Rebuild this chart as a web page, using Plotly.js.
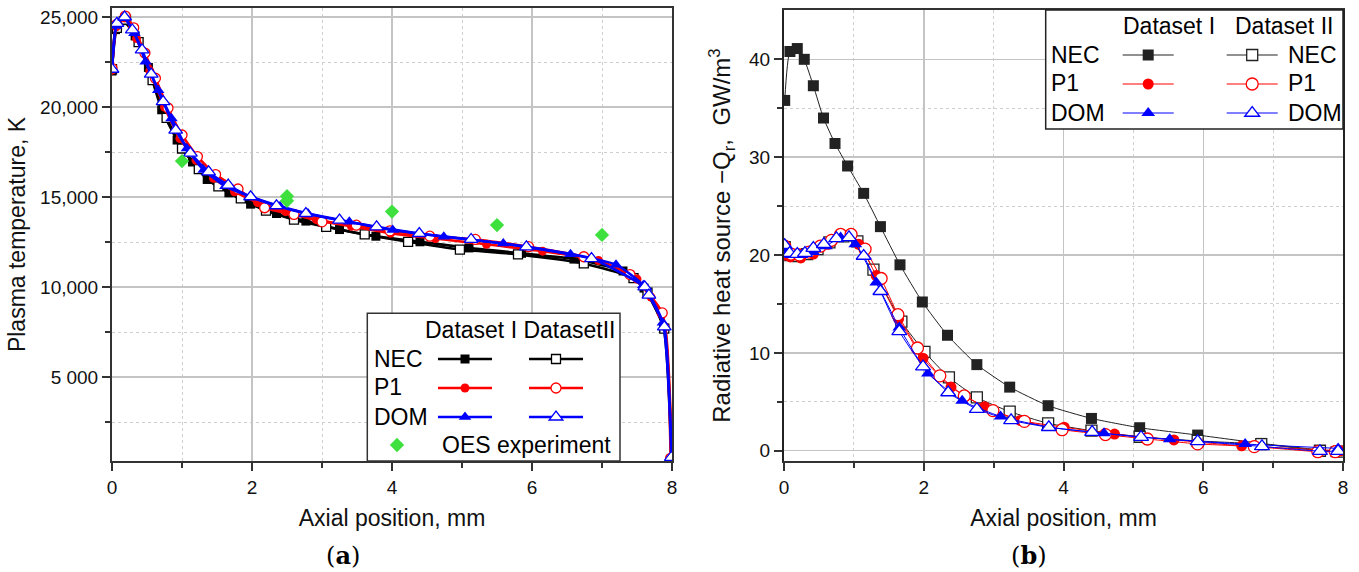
<!DOCTYPE html>
<html>
<head>
<meta charset="utf-8">
<script src="https://cdn.plot.ly/plotly-3.0.1.min.js"></script>
<style>html,body{margin:0;padding:0;background:#fff;}#chart{width:1359px;height:572px;}</style>
</head>
<body>
<div id="chart"></div>
<script>
// ---------- Panel (a): plasma temperature, K ----------
const a_nec1_x = [0, 0.05, 0.16, 0.33, 0.52, 0.71, 0.93, 1.15, 1.36, 1.67, 1.98, 2.35, 2.77, 3.25, 3.77, 4.40, 5.10, 5.85, 6.60, 7.30, 7.60, 7.88, 7.99];
const a_nec1_y = [22000, 24300, 24800, 23950, 22200, 19850, 18170, 16950, 15980, 15240, 14610, 14090, 13670, 13200, 12830, 12520, 12180, 11880, 11560, 10900, 9950, 7750, 450];
const a_nec2_x = [0, 0.07, 0.20, 0.38, 0.58, 0.78, 1.00, 1.24, 1.52, 1.84, 2.20, 2.60, 3.06, 3.61, 4.23, 4.97, 5.80, 6.74, 7.45, 7.65, 7.89, 8.0];
const a_nec2_y = [22100, 24400, 24850, 23600, 21500, 19400, 17700, 16550, 15600, 14930, 14250, 13750, 13350, 12930, 12520, 12090, 11820, 11320, 10500, 9700, 7700, 400];
const a_p11_x = [0, 0.06, 0.18, 0.35, 0.54, 0.75, 0.97, 1.20, 1.45, 1.75, 2.08, 2.48, 2.92, 3.42, 3.98, 4.62, 5.35, 6.15, 6.95, 7.50, 7.70, 7.90, 8.0];
const a_p11_y = [22050, 24450, 24950, 23800, 22000, 20000, 18250, 17050, 16050, 15300, 14700, 14200, 13750, 13380, 13000, 12700, 12380, 12000, 11480, 10450, 9450, 7800, 450];
const a_p12_x = [0, 0.07, 0.19, 0.31, 0.47, 0.62, 0.80, 1.00, 1.22, 1.48, 1.80, 2.18, 2.60, 3.00, 3.49, 3.97, 4.54, 5.19, 5.95, 6.74, 7.40, 7.86, 7.98];
const a_p12_y = [22150, 24600, 25050, 24400, 23000, 21600, 19950, 18450, 17250, 16250, 15450, 14410, 14040, 13630, 13440, 13130, 12830, 12650, 12250, 11690, 10700, 8570, 500];
const a_dom1_x = [0, 0.06, 0.17, 0.32, 0.48, 0.66, 0.85, 1.07, 1.31, 1.62, 2.00, 2.40, 2.80, 3.39, 4.01, 4.74, 5.59, 6.55, 7.20, 7.59, 7.87, 8.0];
const a_dom1_y = [22100, 24500, 24950, 24100, 22520, 20940, 19370, 17700, 16500, 15600, 15000, 14500, 14090, 13630, 13170, 12800, 12430, 11830, 11250, 10110, 8020, 450];
const a_dom2_x = [0, 0.07, 0.18, 0.29, 0.43, 0.56, 0.73, 0.91, 1.12, 1.38, 1.66, 1.98, 2.35, 2.77, 3.25, 3.78, 4.39, 5.13, 5.92, 6.85, 7.61, 7.67, 7.89, 7.99];
const a_dom2_y = [22100, 24650, 25000, 24280, 23170, 21830, 20300, 18720, 17440, 16400, 15670, 15020, 14520, 14090, 13720, 13350, 12980, 12650, 12240, 11590, 10020, 9560, 7800, 550];
const oes_x = [1.0, 2.5, 2.5, 4.0, 5.5, 7.0];
const oes_y = [17000, 15050, 14800, 14200, 13450, 12900];
const a_ytick_vals = [5000, 10000, 15000, 20000, 25000];
const a_ytick_text = ['5 000', '10,000', '15,000', '20,000', '25,000'];

// ---------- Panel (b): radiative heat source, GW/m3 ----------
const b_nec1_x = [0.01, 0.085, 0.19, 0.29, 0.42, 0.565, 0.73, 0.91, 1.14, 1.38, 1.66, 1.98, 2.34, 2.76, 3.23, 3.78, 4.40, 5.09, 5.92, 6.83, 7.90];
const b_nec1_y = [35.8, 40.8, 41.1, 40.0, 37.3, 34.0, 31.4, 29.1, 26.3, 22.9, 19.0, 15.2, 11.8, 8.8, 6.5, 4.6, 3.3, 2.35, 1.6, 0.75, -0.1];
const b_nec2_x = [0.01, 0.09, 0.20, 0.33, 0.48, 0.65, 0.85, 1.05, 1.28, 1.68, 2.01, 2.36, 2.76, 3.23, 3.78, 4.40, 5.09, 5.92, 6.83, 7.67, 7.95];
const b_nec2_y = [20.8, 20.0, 19.9, 20.1, 20.6, 21.3, 21.9, 21.4, 18.5, 13.2, 10.1, 7.5, 5.45, 4.0, 2.8, 2.05, 1.43, 1.0, 0.68, 0.0, -0.1];
const b_p11_x = [0.0, 0.09, 0.24, 0.42, 0.63, 0.83, 1.07, 1.32, 1.64, 1.99, 2.39, 2.87, 3.38, 4.01, 4.73, 5.58, 6.55, 7.97];
const b_p11_y = [20.0, 19.8, 19.7, 20.1, 21.1, 22.1, 21.1, 17.9, 13.5, 9.45, 6.5, 4.5, 3.1, 2.4, 1.7, 1.1, 0.5, 0.0];
const b_p12_x = [0.01, 0.10, 0.22, 0.36, 0.52, 0.68, 0.81, 0.96, 1.16, 1.39, 1.63, 1.91, 2.23, 2.58, 2.99, 3.44, 3.98, 4.60, 5.20, 5.92, 6.73, 7.64, 7.89];
const b_p12_y = [20.9, 20.1, 20.0, 20.3, 20.9, 21.5, 22.1, 22.1, 20.6, 17.6, 13.9, 10.5, 7.65, 5.6, 4.1, 3.0, 2.15, 1.65, 1.2, 0.7, 0.42, -0.1, -0.1];
const b_dom1_x = [0.0, 0.10, 0.25, 0.42, 0.60, 0.81, 1.02, 1.32, 1.65, 2.06, 2.55, 3.10, 3.80, 4.58, 5.52, 6.60, 7.93];
const b_dom1_y = [20.5, 20.0, 20.0, 20.3, 20.9, 21.8, 21.1, 17.2, 12.6, 7.9, 5.1, 3.5, 2.4, 1.78, 1.16, 0.68, 0.24];
const b_dom2_x = [0.01, 0.08, 0.19, 0.30, 0.42, 0.57, 0.75, 0.93, 1.14, 1.38, 1.65, 1.99, 2.35, 2.76, 3.25, 3.79, 4.41, 5.11, 5.92, 6.84, 7.67, 7.93];
const b_dom2_y = [21.0, 20.2, 20.1, 20.2, 20.7, 21.1, 21.7, 21.8, 19.9, 16.3, 12.2, 8.6, 5.95, 4.25, 3.1, 2.4, 1.9, 1.38, 0.95, 0.44, -0.05, -0.05];
const b_ytick_vals = [0, 10, 20, 30, 40];
const x_tick_vals = [0, 2, 4, 6, 8];

// ---------- helpers ----------
const W = 1359, H = 572;
const px = v => v / W;
const py = v => 1 - v / H;
const FONT = 'Liberation Sans, Arial, sans-serif';
const SERIF = 'DejaVu Serif, Liberation Serif, serif';
const BLACK = '#000000', RED = '#ff0000', BLUE = '#0000ff', GREEN = '#3ee03e';

function tr(x, y, xa, ya, color, symbol, filled, size, lw, legend) {
  return {
    type: 'scatter', mode: 'lines+markers', x: x, y: y, xaxis: xa, yaxis: ya,
    name: '', legend: legend, showlegend: true, hoverinfo: 'skip',
    line: {color: color, width: lw, shape: 'spline', smoothing: 0.5},
    marker: {symbol: symbol, size: size, color: filled ? color : '#ffffff',
             line: {color: color, width: filled ? 0 : 1.3}}
  };
}

const data = [
  tr(a_nec1_x, a_nec1_y, 'x', 'y', BLACK, 'square', true, 9, 2.6, 'legend'),
  tr(a_nec2_x, a_nec2_y, 'x', 'y', BLACK, 'square', false, 9, 2.6, 'legend2'),
  tr(a_p11_x, a_p11_y, 'x', 'y', RED, 'circle', true, 9, 2.6, 'legend'),
  tr(a_p12_x, a_p12_y, 'x', 'y', RED, 'circle', false, 10, 2.6, 'legend2'),
  tr(a_dom1_x, a_dom1_y, 'x', 'y', BLUE, 'triangle-up', true, 11, 2.6, 'legend'),
  tr(a_dom2_x, a_dom2_y, 'x', 'y', BLUE, 'triangle-up', false, 12, 2.6, 'legend2'),
  {type: 'scatter', mode: 'markers', x: oes_x, y: oes_y, xaxis: 'x', yaxis: 'y', name: '',
   legend: 'legend3', showlegend: true, hoverinfo: 'skip',
   marker: {symbol: 'diamond', size: 11, color: GREEN}},
  tr(b_nec1_x, b_nec1_y, 'x2', 'y2', '#222222', 'square', true, 11, 1, 'legend4'),
  tr(b_p11_x, b_p11_y, 'x2', 'y2', RED, 'circle', true, 11, 1, 'legend4'),
  tr(b_dom1_x, b_dom1_y, 'x2', 'y2', BLUE, 'triangle-up', true, 12, 1, 'legend4'),
  tr(b_nec2_x, b_nec2_y, 'x2', 'y2', '#222222', 'square', false, 11, 1, 'legend5'),
  tr(b_p12_x, b_p12_y, 'x2', 'y2', RED, 'circle', false, 12, 1, 'legend5'),
  tr(b_dom2_x, b_dom2_y, 'x2', 'y2', BLUE, 'triangle-up', false, 13, 1, 'legend5')
];
const order = [0,1,2,3,4,5,6,7,10,8,11,9,12];
const traces = order.map(i => data[i]);

function xax(domain) {
  return {
    domain: domain, range: [0, 8], tickvals: x_tick_vals, ticks: 'outside', ticklen: 8, tickwidth: 2,
    tickcolor: '#333', showline: true, linewidth: 2, linecolor: '#333', mirror: true,
    showgrid: true, gridcolor: '#c4c4c4', gridwidth: 1.5, zeroline: false,
    tickfont: {family: FONT, size: 19, color: '#111'},
    minor: {tickvals: [1, 3, 5, 7], ticks: 'outside', ticklen: 5, tickwidth: 2, tickcolor: '#333',
            showgrid: true, gridcolor: '#cfcfcf', griddash: 'dot', gridwidth: 1},
    title: {text: 'Axial position, mm', font: {family: FONT, size: 23, color: '#111'}, standoff: 13}
  };
}

function legendCfg(xLeft, yTop, itemw) {
  return {x: px(xLeft), y: py(yTop), xanchor: 'left', yanchor: 'top', bgcolor: 'rgba(0,0,0,0)',
          borderwidth: 0, font: {family: FONT, size: 20, color: '#000'}, itemwidth: itemw,
          tracegroupgap: 0, traceorder: 'normal', itemclick: false, itemdoubleclick: false};
}

function ann(text, x, y, xanchor, size, fam) {
  return {text: text, x: px(x), y: py(y), xref: 'paper', yref: 'paper', xanchor: xanchor, yanchor: 'middle',
          showarrow: false, font: {family: fam || FONT, size: size || 23, color: '#000'}};
}

const layout = {
  width: W, height: H, margin: {l: 0, r: 0, t: 0, b: 0},
  paper_bgcolor: '#ffffff', plot_bgcolor: '#ffffff', showlegend: true,
  xaxis: xax([px(112), px(672)]),
  yaxis: {
    domain: [py(461), py(8)], range: [350, 25500], tickvals: a_ytick_vals, ticktext: a_ytick_text,
    ticks: 'outside', ticklen: 8, tickwidth: 2, tickcolor: '#333', showline: true, linewidth: 2,
    linecolor: '#333', mirror: true, showgrid: true, gridcolor: '#c4c4c4', gridwidth: 1.5, zeroline: false,
    tickfont: {family: FONT, size: 19, color: '#111'},
    minor: {tick0: 0, dtick: 2500, ticks: 'outside', ticklen: 5, tickwidth: 2, tickcolor: '#333',
            showgrid: true, gridcolor: '#cfcfcf', griddash: 'dot', gridwidth: 1},
    title: {text: 'Plasma temperature, K', font: {family: FONT, size: 23, color: '#111'}, standoff: 8}
  },
  xaxis2: Object.assign(xax([px(784), px(1343)]), {anchor: 'y2'}),
  yaxis2: {
    domain: [py(461), py(10)], range: [-1.05, 45.04], tickvals: b_ytick_vals, anchor: 'x2',
    ticks: 'outside', ticklen: 8, tickwidth: 2, tickcolor: '#333', showline: true, linewidth: 2,
    linecolor: '#222', mirror: true, showgrid: true, gridcolor: '#c4c4c4', gridwidth: 1.5, zeroline: false,
    tickfont: {family: FONT, size: 19, color: '#111'},
    minor: {tickvals: [5, 15, 25, 35], ticks: 'outside', ticklen: 5, tickwidth: 2, tickcolor: '#333',
            showgrid: true, gridcolor: '#cfcfcf', griddash: 'dot', gridwidth: 1},
    title: {text: 'Radiative heat source \u2212Q<sub>r</sub>,  GW/m<sup>3</sup>', font: {family: FONT, size: 24, color: '#111'}, standoff: 12}
  },
  legend: legendCfg(433, 339.5, 54),
  legend2: legendCfg(524, 339.5, 54),
  legend3: legendCfg(377, 425.5, 30),
  legend4: legendCfg(1117.7, 35.5, 51),
  legend5: legendCfg(1221.7, 35.5, 51),
  shapes: [
    {type: 'rect', xref: 'paper', yref: 'paper', x0: px(367.3), x1: px(620), y0: py(461), y1: py(313.3),
     fillcolor: '#ffffff', line: {color: '#333', width: 1.5}, layer: 'above'},
    {type: 'rect', xref: 'paper', yref: 'paper', x0: px(1045.7), x1: px(1343), y0: py(129), y1: py(10),
     fillcolor: '#ffffff', line: {color: '#222', width: 1.5}, layer: 'above'}
  ],
  annotations: [
    ann('Dataset I DatasetII', 423.3, 330, 'left'),
    ann('NEC', 371.7, 359, 'left'),
    ann('P1', 371.7, 387.3, 'left'),
    ann('DOM', 371.7, 416.7, 'left'),
    ann('OES experiment', 440, 445, 'left'),
    ann('Dataset I', 1120.7, 26, 'left'),
    ann('Dataset II', 1233.3, 26, 'left'),
    ann('NEC', 1049.3, 55, 'left'),
    ann('P1', 1049.3, 83.3, 'left'),
    ann('DOM', 1049.3, 112.7, 'left'),
    ann('NEC', 1286, 55, 'left'),
    ann('P1', 1286, 83.3, 'left'),
    ann('DOM', 1286, 112.7, 'left'),
    ann('(<b>a</b>)', 343, 555, 'center', 24, SERIF),
    ann('(<b>b</b>)', 1029, 555, 'center', 24, SERIF)
  ]
};

Plotly.newPlot('chart', traces, layout, {displayModeBar: false, staticPlot: true});
</script>
</body>
</html>
